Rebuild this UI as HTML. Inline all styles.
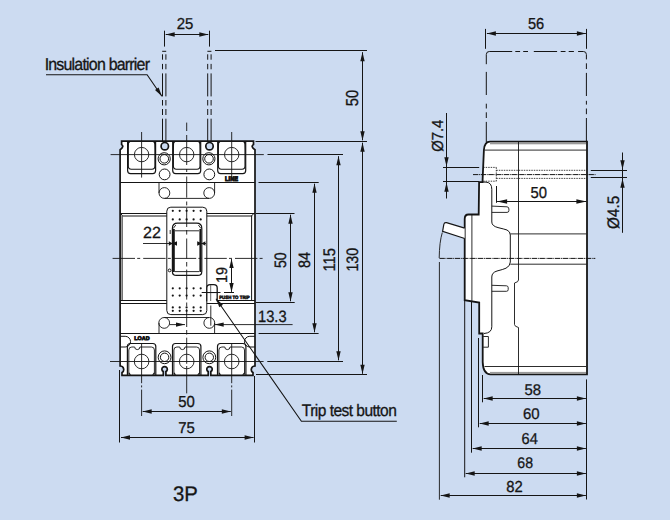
<!DOCTYPE html>
<html><head><meta charset="utf-8"><style>
html,body{margin:0;padding:0;background:#ccdbf1;}
body{width:670px;height:520px;overflow:hidden;}
svg{display:block;}
text{font-family:"Liberation Sans",sans-serif;fill:#151515;text-rendering:geometricPrecision;}
</style></head><body>
<svg width="670" height="520" viewBox="0 0 670 520">
<path d="M121.6,141.2 H253.5 V144.6 Q250.2,146.5 255.0,149.8 V366 C250.5,366 250.5,371.5 253.0,372.6 V375.3 H210.8 V371.6 A2.7,2.7 0 1 0 208.2,371.6 V375.3 H165.9 V371.6 A2.7,2.7 0 1 0 163.29999999999998,371.6 V375.3 H122 V372.6 C124.5,371.5 124.5,366 120.1,366 V149.8 Q124.5,146.5 121.6,144.6 Z" fill="#fff" stroke="#151515" stroke-width="1.7" />
<path d="M127.6,141.2 V170.5 Q127.6,173.6 130.6,173.6 H152.6 Q155.6,173.6 155.6,170.5 V141.2" fill="none" stroke="#151515" stroke-width="1.2" />
<path d="M154.6,141.2 Q154.9,145 154.9,150 V166 Q154.9,169.2 151.9,169.2 H131.29999999999998 Q128.29999999999998,169.2 128.29999999999998,166 V150 Q128.29999999999998,145 128.6,141.2" fill="none" stroke="#151515" stroke-width="1.1" />
<circle cx="141.6" cy="154.6" r="7.2" fill="none" stroke="#151515" stroke-width="0.9"/>
<polygon points="127.6,141.2 130.79999999999998,141.2 128.0,144.2" fill="#151515"/>
<polygon points="155.6,141.2 152.4,141.2 155.2,144.2" fill="#151515"/>
<path d="M172.7,141.2 V170.5 Q172.7,173.6 175.7,173.6 H197.7 Q200.7,173.6 200.7,170.5 V141.2" fill="none" stroke="#151515" stroke-width="1.2" />
<path d="M199.7,141.2 Q200.0,145 200.0,150 V166 Q200.0,169.2 197.0,169.2 H176.39999999999998 Q173.39999999999998,169.2 173.39999999999998,166 V150 Q173.39999999999998,145 173.7,141.2" fill="none" stroke="#151515" stroke-width="1.1" />
<circle cx="186.7" cy="154.6" r="7.2" fill="none" stroke="#151515" stroke-width="0.9"/>
<polygon points="172.7,141.2 175.89999999999998,141.2 173.1,144.2" fill="#151515"/>
<polygon points="200.7,141.2 197.5,141.2 200.29999999999998,144.2" fill="#151515"/>
<path d="M217.7,141.2 V170.5 Q217.7,173.6 220.7,173.6 H242.7 Q245.7,173.6 245.7,170.5 V141.2" fill="none" stroke="#151515" stroke-width="1.2" />
<path d="M244.7,141.2 Q245.0,145 245.0,150 V166 Q245.0,169.2 242.0,169.2 H221.39999999999998 Q218.39999999999998,169.2 218.39999999999998,166 V150 Q218.39999999999998,145 218.7,141.2" fill="none" stroke="#151515" stroke-width="1.1" />
<circle cx="231.7" cy="154.6" r="7.2" fill="none" stroke="#151515" stroke-width="0.9"/>
<polygon points="217.7,141.2 220.89999999999998,141.2 218.1,144.2" fill="#151515"/>
<polygon points="245.7,141.2 242.5,141.2 245.29999999999998,144.2" fill="#151515"/>
<circle cx="164.8" cy="146.2" r="3.7" fill="#ccdbf1" stroke="#151515" stroke-width="1.7"/>
<circle cx="164.20000000000002" cy="158.8" r="6.1" fill="none" stroke="#151515" stroke-width="1.0"/>
<circle cx="164.3" cy="158.8" r="4.3" fill="none" stroke="#151515" stroke-width="1.0"/>
<circle cx="164.60000000000002" cy="174.4" r="5.4" fill="none" stroke="#151515" stroke-width="1.0"/>
<circle cx="209.5" cy="146.2" r="3.7" fill="#ccdbf1" stroke="#151515" stroke-width="1.7"/>
<circle cx="208.9" cy="158.8" r="6.1" fill="none" stroke="#151515" stroke-width="1.0"/>
<circle cx="209.0" cy="158.8" r="4.3" fill="none" stroke="#151515" stroke-width="1.0"/>
<circle cx="209.3" cy="174.4" r="5.4" fill="none" stroke="#151515" stroke-width="1.0"/>
<text x="0" y="0" font-size="6" font-weight="bold" stroke="#151515" stroke-width="0.9" transform="translate(225.121 180.500) scale(0.9438 1.1143)">LINE</text>
<line x1="120.1" y1="182.5" x2="255.0" y2="182.5" stroke="#151515" stroke-width="1.0"/>
<path d="M159,182.3 V193 M214.6,182.3 V193 M164.4,198.4 H209" fill="none" stroke="#151515" stroke-width="0.9" />
<circle cx="164.4" cy="193" r="5.4" fill="none" stroke="#151515" stroke-width="0.9"/>
<circle cx="209.2" cy="193" r="5.4" fill="none" stroke="#151515" stroke-width="0.9"/>
<line x1="120.1" y1="213.5" x2="255.0" y2="213.5" stroke="#151515" stroke-width="1.0"/>
<line x1="120.1" y1="300.5" x2="255.0" y2="300.5" stroke="#151515" stroke-width="1.0"/>
<line x1="120.1" y1="303.5" x2="255.0" y2="303.5" stroke="#151515" stroke-width="1.0"/>
<line x1="122.6" y1="216.0" x2="252.2" y2="216.0" stroke="#151515" stroke-width="1.0"/>
<line x1="122.1" y1="216.0" x2="122.1" y2="300.5" stroke="#151515" stroke-width="1.0"/>
<line x1="251.6" y1="216.0" x2="251.6" y2="300.5" stroke="#151515" stroke-width="1.0"/>
<path d="M120.8,213.6 L122.5,216 M253.8,213.6 L251.4,216" fill="none" stroke="#151515" stroke-width="1.0" />
<path d="M166.8,310.6 V211.2 Q166.8,207.2 170.8,207.2 H202.8 Q206.8,207.2 206.8,211.2 V310.6 Q206.8,314.6 202.8,314.6 H170.8 Q166.8,314.6 166.8,310.6 Z" fill="#fff" stroke="#151515" stroke-width="1.0" />
<circle cx="172.8" cy="210.8" r="1.1" fill="#151515"/>
<circle cx="179.7" cy="210.8" r="1.1" fill="#151515"/>
<circle cx="186.6" cy="210.8" r="1.1" fill="#151515"/>
<circle cx="193.6" cy="210.8" r="1.1" fill="#151515"/>
<circle cx="200.7" cy="210.8" r="1.1" fill="#151515"/>
<circle cx="172.8" cy="219.4" r="1.1" fill="#151515"/>
<circle cx="179.7" cy="219.4" r="1.1" fill="#151515"/>
<circle cx="186.6" cy="219.4" r="1.1" fill="#151515"/>
<circle cx="193.6" cy="219.4" r="1.1" fill="#151515"/>
<circle cx="200.7" cy="219.4" r="1.1" fill="#151515"/>
<circle cx="172.8" cy="288.3" r="1.1" fill="#151515"/>
<circle cx="179.7" cy="288.3" r="1.1" fill="#151515"/>
<circle cx="186.6" cy="288.3" r="1.1" fill="#151515"/>
<circle cx="193.6" cy="288.3" r="1.1" fill="#151515"/>
<circle cx="200.7" cy="288.3" r="1.1" fill="#151515"/>
<circle cx="172.8" cy="295.6" r="1.1" fill="#151515"/>
<circle cx="179.7" cy="295.6" r="1.1" fill="#151515"/>
<circle cx="186.6" cy="295.6" r="1.1" fill="#151515"/>
<circle cx="193.6" cy="295.6" r="1.1" fill="#151515"/>
<circle cx="200.7" cy="295.6" r="1.1" fill="#151515"/>
<circle cx="172.8" cy="307.4" r="1.1" fill="#151515"/>
<circle cx="179.7" cy="307.4" r="1.1" fill="#151515"/>
<circle cx="186.6" cy="307.4" r="1.1" fill="#151515"/>
<circle cx="193.6" cy="307.4" r="1.1" fill="#151515"/>
<circle cx="200.7" cy="307.4" r="1.1" fill="#151515"/>
<circle cx="172.8" cy="310.8" r="1.1" fill="#151515"/>
<circle cx="179.7" cy="310.8" r="1.1" fill="#151515"/>
<circle cx="186.6" cy="310.8" r="1.1" fill="#151515"/>
<circle cx="193.6" cy="310.8" r="1.1" fill="#151515"/>
<circle cx="200.7" cy="310.8" r="1.1" fill="#151515"/>
<path d="M172.4,271.4 V228.4 Q172.4,223.2 177.6,223.2 H196.6 Q201.8,223.2 201.8,228.4 V271.4 Q201.8,275.4 197.8,275.4 H176.4 Q172.4,275.4 172.4,271.4 Z" fill="#fff" stroke="#151515" stroke-width="1.2" />
<line x1="173.9" y1="229" x2="173.9" y2="272" stroke="#151515" stroke-width="1.8"/>
<line x1="200.3" y1="229" x2="200.3" y2="272" stroke="#151515" stroke-width="1.8"/>
<path d="M173.2,228.5 L175.8,225 M201,228.5 L198.4,225" fill="none" stroke="#151515" stroke-width="0.9" />
<line x1="175" y1="230.8" x2="199" y2="230.8" stroke="#151515" stroke-width="0.9"/>
<line x1="175" y1="271.6" x2="199" y2="271.6" stroke="#151515" stroke-width="0.9"/>
<circle cx="169.6" cy="270.4" r="1.4" fill="none" stroke="#151515" stroke-width="1.0"/>
<line x1="170.2" y1="230" x2="170.2" y2="234" stroke="#151515" stroke-width="0.9"/>
<path d="M206.8,301.4 V288 Q206.8,284.6 210.2,284.6 H213.8 Q217.2,284.6 217.2,288 V301.4" fill="#fff" stroke="#151515" stroke-width="1.3" />
<line x1="210.7" y1="285" x2="210.7" y2="301" stroke="#666" stroke-width="1.0"/>
<line x1="207" y1="292.6" x2="217" y2="292.6" stroke="#666" stroke-width="1.0"/>
<text x="0" y="0" font-size="5" font-weight="bold" stroke="#151515" stroke-width="0.6" transform="translate(219.208 299.452) scale(0.8720 0.9605)">PUSH TO TRIP</text>
<path d="M159,333.6 V322.9 M214.6,333.6 V322.9 M164.2,317.5 H209" fill="none" stroke="#151515" stroke-width="0.9" />
<circle cx="164.2" cy="322.9" r="5.4" fill="none" stroke="#151515" stroke-width="0.9"/>
<circle cx="209.3" cy="322.9" r="5.4" fill="none" stroke="#151515" stroke-width="0.9"/>
<line x1="120.1" y1="333.5" x2="255.0" y2="333.5" stroke="#151515" stroke-width="1.0"/>
<path d="M120.1,336.3 H125.2 A5.35,5.35 0 0 1 125.2,347 H120.1" fill="none" stroke="#151515" stroke-width="1.0" />
<path d="M255.0,336.3 H249.8 A5.35,5.35 0 0 0 249.8,347 H255.0" fill="none" stroke="#151515" stroke-width="1.0" />
<text x="0" y="0" font-size="6" font-weight="bold" stroke="#151515" stroke-width="0.9" transform="translate(134.341 340.146) scale(0.8933 0.8945)">LOAD</text>
<path d="M127.39999999999999,375.3 V346.5 Q127.39999999999999,343.5 130.4,343.5 H152.79999999999998 Q155.79999999999998,343.5 155.79999999999998,346.5 V375.3" fill="none" stroke="#151515" stroke-width="1.2" />
<path d="M128.79999999999998,374.3 V350 Q128.79999999999998,347 131.79999999999998,347 H134.7 A2.6,2.6 0 0 0 139.9,347 H151.4 Q154.4,347 154.4,350 V374.3" fill="none" stroke="#151515" stroke-width="0.9" />
<circle cx="141.6" cy="361.5" r="7.3" fill="none" stroke="#151515" stroke-width="0.9"/>
<polygon points="128.6,374.8 131.1,374.8 129.0,372.3" fill="#151515"/>
<polygon points="154.6,374.8 152.1,374.8 154.2,372.3" fill="#151515"/>
<path d="M172.5,375.3 V346.5 Q172.5,343.5 175.5,343.5 H197.89999999999998 Q200.89999999999998,343.5 200.89999999999998,346.5 V375.3" fill="none" stroke="#151515" stroke-width="1.2" />
<path d="M173.89999999999998,374.3 V350 Q173.89999999999998,347 176.89999999999998,347 H179.79999999999998 A2.6,2.6 0 0 0 185.0,347 H196.5 Q199.5,347 199.5,350 V374.3" fill="none" stroke="#151515" stroke-width="0.9" />
<circle cx="186.7" cy="361.5" r="7.3" fill="none" stroke="#151515" stroke-width="0.9"/>
<polygon points="173.7,374.8 176.2,374.8 174.1,372.3" fill="#151515"/>
<polygon points="199.7,374.8 197.2,374.8 199.29999999999998,372.3" fill="#151515"/>
<path d="M217.5,375.3 V346.5 Q217.5,343.5 220.5,343.5 H242.89999999999998 Q245.89999999999998,343.5 245.89999999999998,346.5 V375.3" fill="none" stroke="#151515" stroke-width="1.2" />
<path d="M218.89999999999998,374.3 V350 Q218.89999999999998,347 221.89999999999998,347 H224.79999999999998 A2.6,2.6 0 0 0 230.0,347 H241.5 Q244.5,347 244.5,350 V374.3" fill="none" stroke="#151515" stroke-width="0.9" />
<circle cx="231.7" cy="361.5" r="7.3" fill="none" stroke="#151515" stroke-width="0.9"/>
<polygon points="218.7,374.8 221.2,374.8 219.1,372.3" fill="#151515"/>
<polygon points="244.7,374.8 242.2,374.8 244.29999999999998,372.3" fill="#151515"/>
<circle cx="164.60000000000002" cy="357.3" r="6.4" fill="none" stroke="#151515" stroke-width="1.0"/>
<circle cx="164.60000000000002" cy="357.3" r="4.2" fill="none" stroke="#151515" stroke-width="1.0"/>
<circle cx="209.3" cy="357.3" r="6.4" fill="none" stroke="#151515" stroke-width="1.0"/>
<circle cx="209.3" cy="357.3" r="4.2" fill="none" stroke="#151515" stroke-width="1.0"/>
<line x1="110.6" y1="154.6" x2="263.8" y2="154.6" stroke="#151515" stroke-width="0.9"/>
<line x1="112.6" y1="258.4" x2="264" y2="258.4" stroke="#151515" stroke-width="0.9" stroke-dasharray="22.4 2.2 3 3"/>
<line x1="110" y1="361.5" x2="263.6" y2="361.5" stroke="#151515" stroke-width="0.9"/>
<line x1="141.6" y1="132" x2="141.6" y2="177.6" stroke="#151515" stroke-width="0.9"/>
<line x1="231.7" y1="132" x2="231.7" y2="177.6" stroke="#151515" stroke-width="0.9"/>
<line x1="186.7" y1="122.6" x2="186.7" y2="131" stroke="#151515" stroke-width="0.9"/>
<line x1="186.7" y1="135" x2="186.7" y2="165" stroke="#151515" stroke-width="0.9"/>
<line x1="186.7" y1="169" x2="186.7" y2="172" stroke="#151515" stroke-width="0.9"/>
<line x1="186.7" y1="176.5" x2="186.7" y2="197.7" stroke="#151515" stroke-width="0.9"/>
<line x1="186.7" y1="201.5" x2="186.7" y2="205.4" stroke="#151515" stroke-width="0.9"/>
<line x1="186.7" y1="208" x2="186.7" y2="227" stroke="#151515" stroke-width="0.9"/>
<line x1="186.7" y1="230" x2="186.7" y2="234.6" stroke="#151515" stroke-width="0.9"/>
<line x1="186.7" y1="238.5" x2="186.7" y2="258.8" stroke="#151515" stroke-width="0.9"/>
<line x1="186.7" y1="262" x2="186.7" y2="266.5" stroke="#151515" stroke-width="0.9"/>
<line x1="186.7" y1="269.6" x2="186.7" y2="299.6" stroke="#151515" stroke-width="0.9"/>
<line x1="186.7" y1="302.5" x2="186.7" y2="306" stroke="#151515" stroke-width="0.9"/>
<line x1="186.7" y1="309" x2="186.7" y2="327" stroke="#151515" stroke-width="0.9"/>
<line x1="186.7" y1="330" x2="186.7" y2="334.6" stroke="#151515" stroke-width="0.9"/>
<line x1="186.7" y1="337.7" x2="186.7" y2="363.8" stroke="#151515" stroke-width="0.9"/>
<line x1="186.7" y1="366" x2="186.7" y2="393.4" stroke="#151515" stroke-width="0.9"/>
<line x1="141.6" y1="343" x2="141.6" y2="383.2" stroke="#151515" stroke-width="0.9"/>
<line x1="141.6" y1="385.4" x2="141.6" y2="387.4" stroke="#151515" stroke-width="0.9"/>
<line x1="141.6" y1="389.6" x2="141.6" y2="416" stroke="#151515" stroke-width="0.9"/>
<line x1="231.7" y1="343" x2="231.7" y2="383.2" stroke="#151515" stroke-width="0.9"/>
<line x1="231.7" y1="385.4" x2="231.7" y2="387.4" stroke="#151515" stroke-width="0.9"/>
<line x1="231.7" y1="389.6" x2="231.7" y2="416" stroke="#151515" stroke-width="0.9"/>
<line x1="162.2" y1="51.3" x2="166.20000000000002" y2="51.3" stroke="#151515" stroke-width="1.0"/>
<line x1="162.5" y1="54.3" x2="162.5" y2="59.7" stroke="#151515" stroke-width="1.0"/>
<line x1="165.9" y1="54.3" x2="165.9" y2="59.7" stroke="#151515" stroke-width="1.0"/>
<line x1="162.5" y1="63.9" x2="162.5" y2="69.3" stroke="#151515" stroke-width="1.0"/>
<line x1="165.9" y1="63.9" x2="165.9" y2="69.3" stroke="#151515" stroke-width="1.0"/>
<line x1="162.5" y1="73.4" x2="162.5" y2="96.4" stroke="#151515" stroke-width="1.0"/>
<line x1="165.9" y1="73.4" x2="165.9" y2="96.4" stroke="#151515" stroke-width="1.0"/>
<line x1="162.5" y1="100" x2="162.5" y2="105.5" stroke="#151515" stroke-width="1.0"/>
<line x1="165.9" y1="100" x2="165.9" y2="105.5" stroke="#151515" stroke-width="1.0"/>
<line x1="162.5" y1="109" x2="162.5" y2="115" stroke="#151515" stroke-width="1.0"/>
<line x1="165.9" y1="109" x2="165.9" y2="115" stroke="#151515" stroke-width="1.0"/>
<line x1="162.5" y1="118.7" x2="162.5" y2="141.2" stroke="#151515" stroke-width="1.0"/>
<line x1="165.9" y1="118.7" x2="165.9" y2="141.2" stroke="#151515" stroke-width="1.0"/>
<line x1="207.39999999999998" y1="51.3" x2="211.4" y2="51.3" stroke="#151515" stroke-width="1.0"/>
<line x1="207.7" y1="54.3" x2="207.7" y2="59.7" stroke="#151515" stroke-width="1.0"/>
<line x1="211.1" y1="54.3" x2="211.1" y2="59.7" stroke="#151515" stroke-width="1.0"/>
<line x1="207.7" y1="63.9" x2="207.7" y2="69.3" stroke="#151515" stroke-width="1.0"/>
<line x1="211.1" y1="63.9" x2="211.1" y2="69.3" stroke="#151515" stroke-width="1.0"/>
<line x1="207.7" y1="73.4" x2="207.7" y2="96.4" stroke="#151515" stroke-width="1.0"/>
<line x1="211.1" y1="73.4" x2="211.1" y2="96.4" stroke="#151515" stroke-width="1.0"/>
<line x1="207.7" y1="100" x2="207.7" y2="105.5" stroke="#151515" stroke-width="1.0"/>
<line x1="211.1" y1="100" x2="211.1" y2="105.5" stroke="#151515" stroke-width="1.0"/>
<line x1="207.7" y1="109" x2="207.7" y2="115" stroke="#151515" stroke-width="1.0"/>
<line x1="211.1" y1="109" x2="211.1" y2="115" stroke="#151515" stroke-width="1.0"/>
<line x1="207.7" y1="118.7" x2="207.7" y2="141.2" stroke="#151515" stroke-width="1.0"/>
<line x1="211.1" y1="118.7" x2="211.1" y2="141.2" stroke="#151515" stroke-width="1.0"/>
<line x1="164.5" y1="30.7" x2="164.5" y2="46.6" stroke="#151515" stroke-width="1.0"/>
<line x1="209.5" y1="30.7" x2="209.5" y2="46.6" stroke="#151515" stroke-width="1.0"/>
<line x1="165.7" y1="34.5" x2="208.3" y2="34.5" stroke="#151515" stroke-width="1.0"/>
<polygon points="165.70,34.50 174.70,32.30 174.70,36.70" fill="#151515"/>
<polygon points="208.30,34.50 199.30,32.30 199.30,36.70" fill="#151515"/>
<text x="0" y="0" font-size="16" font-weight="normal" stroke="#151515" stroke-width="0.3" transform="translate(176.655 28.642) scale(0.9314 0.9887)">25</text>
<path d="M46,74.7 H147.1 L161.9,96.2" fill="none" stroke="#151515" stroke-width="1.1" />
<polygon points="161.90,96.20 154.98,90.03 158.61,87.54" fill="#151515"/>
<text x="0" y="0" font-size="16" stroke="#151515" stroke-width="0.3" letter-spacing="-0.794" transform="translate(44.633 69.900) scale(0.9969 1.0719)">Insulation barrier</text>
<line x1="215" y1="50.5" x2="367" y2="50.5" stroke="#151515" stroke-width="1.0"/>
<line x1="255.5" y1="141.5" x2="367" y2="141.5" stroke="#151515" stroke-width="1.0"/>
<line x1="362.5" y1="52.2" x2="362.5" y2="140.3" stroke="#151515" stroke-width="1.0"/>
<polygon points="362.50,52.20 360.30,61.20 364.70,61.20" fill="#151515"/>
<polygon points="362.50,140.30 360.30,131.30 364.70,131.30" fill="#151515"/>
<text x="0" y="0" font-size="16" font-weight="normal" stroke="#151515" stroke-width="0.3" transform="translate(357.928 106.189) rotate(-90) scale(0.9197 1.0770)">50</text>
<line x1="256" y1="374.5" x2="367" y2="374.5" stroke="#151515" stroke-width="1.0"/>
<line x1="362.5" y1="142.7" x2="362.5" y2="373.8" stroke="#151515" stroke-width="1.0"/>
<polygon points="362.50,142.70 360.30,151.70 364.70,151.70" fill="#151515"/>
<polygon points="362.50,373.80 360.30,364.80 364.70,364.80" fill="#151515"/>
<text x="0" y="0" font-size="16" font-weight="normal" stroke="#151515" stroke-width="0.3" transform="translate(357.635 271.586) rotate(-90) scale(0.8934 1.0328)">130</text>
<line x1="267.5" y1="154.5" x2="343" y2="154.5" stroke="#151515" stroke-width="1.0"/>
<line x1="267.3" y1="361.5" x2="343" y2="361.5" stroke="#151515" stroke-width="1.0"/>
<line x1="338.5" y1="156.2" x2="338.5" y2="360.3" stroke="#151515" stroke-width="1.0"/>
<polygon points="338.50,156.20 336.30,165.20 340.70,165.20" fill="#151515"/>
<polygon points="338.50,360.30 336.30,351.30 340.70,351.30" fill="#151515"/>
<text x="0" y="0" font-size="16" font-weight="normal" stroke="#151515" stroke-width="0.3" transform="translate(334.532 271.622) rotate(-90) scale(0.9231 1.0476)">115</text>
<line x1="258.5" y1="182.5" x2="318.7" y2="182.5" stroke="#151515" stroke-width="1.0"/>
<line x1="258.6" y1="333.5" x2="318.6" y2="333.5" stroke="#151515" stroke-width="1.0"/>
<line x1="314.5" y1="183.7" x2="314.5" y2="332.3" stroke="#151515" stroke-width="1.0"/>
<polygon points="314.50,183.70 312.30,192.70 316.70,192.70" fill="#151515"/>
<polygon points="314.50,332.30 312.30,323.30 316.70,323.30" fill="#151515"/>
<text x="0" y="0" font-size="16" font-weight="normal" stroke="#151515" stroke-width="0.3" transform="translate(309.635 268.020) rotate(-90) scale(0.9014 1.0328)">84</text>
<line x1="256" y1="213.5" x2="294.5" y2="213.5" stroke="#151515" stroke-width="1.0"/>
<line x1="255.8" y1="302.5" x2="294.7" y2="302.5" stroke="#151515" stroke-width="1.0"/>
<line x1="290.5" y1="214.7" x2="290.5" y2="301.3" stroke="#151515" stroke-width="1.0"/>
<polygon points="290.50,214.70 288.30,223.70 292.70,223.70" fill="#151515"/>
<polygon points="290.50,301.30 288.30,292.30 292.70,292.30" fill="#151515"/>
<text x="0" y="0" font-size="16" font-weight="normal" stroke="#151515" stroke-width="0.3" transform="translate(285.735 268.069) rotate(-90) scale(0.8894 1.0328)">50</text>
<line x1="231.5" y1="259.1" x2="231.5" y2="291.9" stroke="#151515" stroke-width="1.0"/>
<polygon points="231.50,259.10 229.30,268.10 233.70,268.10" fill="#151515"/>
<polygon points="231.50,291.90 229.30,282.90 233.70,282.90" fill="#151515"/>
<line x1="201.7" y1="292.5" x2="220.5" y2="292.5" stroke="#151515" stroke-width="1.0"/>
<line x1="224" y1="292.5" x2="234" y2="292.5" stroke="#151515" stroke-width="1.0"/>
<text x="0" y="0" font-size="16" font-weight="normal" stroke="#151515" stroke-width="0.3" transform="translate(227.045 282.891) rotate(-90) scale(0.8974 0.9710)">19</text>
<line x1="143" y1="243.5" x2="172.6" y2="243.5" stroke="#151515" stroke-width="0.9"/>
<line x1="201.6" y1="243.5" x2="206" y2="243.5" stroke="#151515" stroke-width="0.9"/>
<polygon points="172.00,243.50 177.00,241.30 177.00,245.70" fill="#151515"/>
<polygon points="202.20,243.50 197.20,241.30 197.20,245.70" fill="#151515"/>
<polygon points="172.80,243.50 168.80,241.30 168.80,245.70" fill="#151515"/>
<polygon points="201.40,243.50 205.40,241.30 205.40,245.70" fill="#151515"/>
<text x="0" y="0" font-size="16" font-weight="normal" stroke="#151515" stroke-width="0.3" transform="translate(142.995 237.800) scale(1.0067 1.0118)">22</text>
<line x1="169.6" y1="324.6" x2="185" y2="324.6" stroke="#151515" stroke-width="0.9"/>
<polygon points="185.00,324.60 176.00,322.40 176.00,326.80" fill="#151515"/>
<line x1="214.7" y1="324.6" x2="292.6" y2="324.6" stroke="#151515" stroke-width="0.9"/>
<polygon points="214.70,324.60 223.70,322.40 223.70,326.80" fill="#151515"/>
<line x1="210.8" y1="305.5" x2="210.8" y2="325.7" stroke="#151515" stroke-width="0.9"/>
<text x="0" y="0" font-size="16" font-weight="normal" stroke="#151515" stroke-width="0.3" transform="translate(257.985 321.935) scale(0.9173 1.0328)">13.3</text>
<path d="M216,298.7 L301.4,421.3 H396.8" fill="none" stroke="#151515" stroke-width="1.1" />
<polygon points="216.00,298.70 222.95,304.83 219.34,307.34" fill="#151515"/>
<text x="0" y="0" font-size="16" stroke="#151515" stroke-width="0.3" letter-spacing="-0.560" transform="translate(301.858 415.900) scale(0.9716 1.0447)">Trip test button</text>
<line x1="142.7" y1="411.5" x2="230.8" y2="411.5" stroke="#151515" stroke-width="1.0"/>
<polygon points="142.70,411.50 151.70,409.30 151.70,413.70" fill="#151515"/>
<polygon points="230.80,411.50 221.80,409.30 221.80,413.70" fill="#151515"/>
<text x="0" y="0" font-size="16" font-weight="normal" stroke="#151515" stroke-width="0.3" transform="translate(178.204 407.040) scale(0.9318 0.9975)">50</text>
<line x1="119.5" y1="370" x2="119.5" y2="442.5" stroke="#151515" stroke-width="1.0"/>
<line x1="254.5" y1="376" x2="254.5" y2="442.5" stroke="#151515" stroke-width="1.0"/>
<line x1="121.0" y1="437.5" x2="253.60000000000002" y2="437.5" stroke="#151515" stroke-width="1.0"/>
<polygon points="121.00,437.50 130.00,435.30 130.00,439.70" fill="#151515"/>
<polygon points="253.60,437.50 244.60,435.30 244.60,439.70" fill="#151515"/>
<text x="0" y="0" font-size="16" font-weight="normal" stroke="#151515" stroke-width="0.3" transform="translate(178.239 432.544) scale(0.9323 0.9760)">75</text>
<text x="0" y="0" font-size="21" font-weight="normal" stroke="#151515" stroke-width="0.3" transform="translate(173.028 501.488) scale(0.9675 1.0089)">3P</text>
<path d="M486.3,64.2 V54.5 Q486.3,51.5 489.3,51.5 H512.2" fill="none" stroke="#151515" stroke-width="1.0" />
<line x1="515.3" y1="51.5" x2="520.1" y2="51.5" stroke="#151515" stroke-width="1.0"/>
<line x1="523.2" y1="51.5" x2="528" y2="51.5" stroke="#151515" stroke-width="1.0"/>
<line x1="533.8" y1="51.5" x2="557.1" y2="51.5" stroke="#151515" stroke-width="1.0"/>
<line x1="560.7" y1="51.5" x2="565.5" y2="51.5" stroke="#151515" stroke-width="1.0"/>
<line x1="568.7" y1="51.5" x2="573.9" y2="51.5" stroke="#151515" stroke-width="1.0"/>
<path d="M578.1,51.5 H583.4 Q586.4,51.5 586.4,54.5 V59.4" fill="none" stroke="#151515" stroke-width="1.0" />
<line x1="486.3" y1="71.9" x2="486.3" y2="95" stroke="#151515" stroke-width="1.0"/>
<line x1="486.3" y1="103.7" x2="486.3" y2="108.5" stroke="#151515" stroke-width="1.0"/>
<line x1="486.3" y1="112.3" x2="486.3" y2="118" stroke="#151515" stroke-width="1.0"/>
<line x1="486.3" y1="121.9" x2="486.3" y2="142" stroke="#151515" stroke-width="1.0"/>
<line x1="586.4" y1="63.3" x2="586.4" y2="69" stroke="#151515" stroke-width="1.0"/>
<line x1="586.4" y1="72.9" x2="586.4" y2="96" stroke="#151515" stroke-width="1.0"/>
<line x1="586.4" y1="100.8" x2="586.4" y2="104.6" stroke="#151515" stroke-width="1.0"/>
<line x1="586.4" y1="108.5" x2="586.4" y2="114.2" stroke="#151515" stroke-width="1.0"/>
<line x1="586.4" y1="118" x2="586.4" y2="142" stroke="#151515" stroke-width="1.0"/>
<line x1="485.5" y1="28.9" x2="485.5" y2="48.8" stroke="#151515" stroke-width="1.0"/>
<line x1="586.5" y1="28.9" x2="586.5" y2="48.8" stroke="#151515" stroke-width="1.0"/>
<line x1="486.9" y1="33.5" x2="585.9" y2="33.5" stroke="#151515" stroke-width="1.0"/>
<polygon points="486.90,33.50 495.90,31.30 495.90,35.70" fill="#151515"/>
<polygon points="585.90,33.50 576.90,31.30 576.90,35.70" fill="#151515"/>
<text x="0" y="0" font-size="16" font-weight="normal" stroke="#151515" stroke-width="0.3" transform="translate(527.916 28.740) scale(0.9120 0.9975)">56</text>
<path d="M490,141.6 H587.0 V374.4 H490.5 Q483,374 482.7,362 V333.5 H479.2 V302.6 L464.7,300.2 V219 Q464.7,214.5 468.5,214.5 H478.7 L479.1,182.1 H482.5 L483.9,150 Q484.5,141.6 490,141.6 Z" fill="#fff" stroke="#151515" stroke-width="1.8" />
<line x1="484.5" y1="150.1" x2="586.6" y2="150.1" stroke="#151515" stroke-width="0.9"/>
<rect x="490" y="142.3" width="96" height="2" fill="#9a9a9a"/>
<line x1="484.5" y1="366.5" x2="586" y2="366.5" stroke="#151515" stroke-width="0.9"/>
<rect x="490" y="371.9" width="96" height="2" fill="#9a9a9a"/>
<path d="M518.5,141.6 V280 Q518.5,282 514.5,283 V324.5 Q514.5,326.5 518.5,327.5 V374.4" fill="none" stroke="#151515" stroke-width="0.9" />
<path d="M482.5,182.1 H486 Q491.8,182.5 491.8,189.3 V222 Q491.8,226 498,227.6 Q504,229 507,230 Q510.3,231.5 510.3,235 V262 Q510.3,266 506,268.2 Q503,269.5 497,271 Q491.8,272.5 491.8,277 V326.8 Q491.8,333 484,333.5" fill="none" stroke="#151515" stroke-width="1.0" />
<line x1="471.9" y1="214.8" x2="471.9" y2="300.8" stroke="#151515" stroke-width="0.9"/>
<line x1="510.3" y1="233.9" x2="586.6" y2="233.9" stroke="#151515" stroke-width="0.9"/>
<line x1="510.3" y1="264.2" x2="586.6" y2="264.2" stroke="#151515" stroke-width="0.9"/>
<path d="M491.8,206.1 L507,206.8 Q508.9,207 508.9,209 V210.6 Q508.9,212.4 507,212.4 H491.8" fill="none" stroke="#151515" stroke-width="0.9" />
<path d="M491.8,285.3 L506.5,285.8 Q508.2,286 508.2,287.6 V289.6 Q508.2,291.3 506.5,291.3 H491.8" fill="none" stroke="#151515" stroke-width="0.9" />
<path d="M483.2,336.5 H488.4 V347.2 H483.2" fill="none" stroke="#151515" stroke-width="0.9" />
<path d="M464.7,228.1 L446.5,222.6 Q444.2,222.2 443.8,224.5 L442.6,231.3 L464.7,238.5" fill="#fff" stroke="#151515" stroke-width="1.2" />
<path d="M442.3,232.5 Q439.4,242 439.2,258 M439.4,262 V499.7" fill="none" stroke="#151515" stroke-width="0.9" />
<line x1="483.2" y1="167.4" x2="496.3" y2="167.4" stroke="#151515" stroke-width="0.8" stroke-dasharray="1.5 1"/>
<line x1="483.2" y1="181.2" x2="496.3" y2="181.2" stroke="#151515" stroke-width="0.8" stroke-dasharray="1.5 1"/>
<line x1="496.3" y1="170.3" x2="586.6" y2="170.3" stroke="#151515" stroke-width="0.8" stroke-dasharray="1.5 1"/>
<line x1="496.3" y1="178.4" x2="586.6" y2="178.4" stroke="#151515" stroke-width="0.8" stroke-dasharray="1.5 1"/>
<line x1="496.3" y1="167.4" x2="496.3" y2="181.2" stroke="#151515" stroke-width="0.8" stroke-dasharray="1.5 1"/>
<line x1="473" y1="174.6" x2="596" y2="174.6" stroke="#151515" stroke-width="1.0" stroke-dasharray="5.4 0.7 0.9 0.7"/>
<line x1="443" y1="167.5" x2="479.2" y2="167.5" stroke="#151515" stroke-width="1.0"/>
<line x1="443" y1="181.5" x2="479.2" y2="181.5" stroke="#151515" stroke-width="1.0"/>
<line x1="446.5" y1="113" x2="446.5" y2="198.5" stroke="#151515" stroke-width="1.0"/>
<polygon points="446.50,166.30 444.30,157.30 448.70,157.30" fill="#151515"/>
<polygon points="446.50,182.70 444.30,191.70 448.70,191.70" fill="#151515"/>
<text x="0" y="0" font-size="16" font-weight="normal" stroke="#151515" stroke-width="0.3" transform="translate(442.987 151.819) rotate(-90) scale(0.9268 0.9939)">Ø7.4</text>
<line x1="590.8" y1="170.5" x2="627" y2="170.5" stroke="#151515" stroke-width="1.0"/>
<line x1="590.8" y1="177.5" x2="627" y2="177.5" stroke="#151515" stroke-width="1.0"/>
<line x1="622.5" y1="152.5" x2="622.5" y2="232.8" stroke="#151515" stroke-width="1.0"/>
<polygon points="622.50,169.30 620.30,160.30 624.70,160.30" fill="#151515"/>
<polygon points="622.50,178.70 620.30,187.70 624.70,187.70" fill="#151515"/>
<text x="0" y="0" font-size="16" font-weight="normal" stroke="#151515" stroke-width="0.3" transform="translate(618.869 229.037) rotate(-90) scale(0.9595 1.0361)">Ø4.5</text>
<line x1="496.5" y1="186" x2="496.5" y2="202.8" stroke="#151515" stroke-width="1.0"/>
<line x1="497.1" y1="201.5" x2="586.4" y2="201.5" stroke="#151515" stroke-width="1.0"/>
<polygon points="497.10,201.50 507.10,199.30 507.10,203.70" fill="#151515"/>
<polygon points="586.40,201.50 576.40,199.30 576.40,203.70" fill="#151515"/>
<text x="0" y="0" font-size="16" font-weight="normal" stroke="#151515" stroke-width="0.3" transform="translate(530.408 197.740) scale(0.9257 0.9975)">50</text>
<line x1="439.4" y1="258.4" x2="595.3" y2="258.4" stroke="#151515" stroke-width="1.0" stroke-dasharray="5.4 0.7 0.9 0.7"/>
<line x1="586.5" y1="379.4" x2="586.5" y2="499.5" stroke="#151515" stroke-width="1.0"/>
<line x1="483.7" y1="398.5" x2="585.9" y2="398.5" stroke="#151515" stroke-width="1.0"/>
<polygon points="483.70,398.50 492.70,396.30 492.70,400.70" fill="#151515"/>
<polygon points="585.90,398.50 576.90,396.30 576.90,400.70" fill="#151515"/>
<line x1="479.7" y1="423.5" x2="585.9" y2="423.5" stroke="#151515" stroke-width="1.0"/>
<polygon points="479.70,423.50 488.70,421.30 488.70,425.70" fill="#151515"/>
<polygon points="585.90,423.50 576.90,421.30 576.90,425.70" fill="#151515"/>
<line x1="472.7" y1="448.5" x2="585.9" y2="448.5" stroke="#151515" stroke-width="1.0"/>
<polygon points="472.70,448.50 481.70,446.30 481.70,450.70" fill="#151515"/>
<polygon points="585.90,448.50 576.90,446.30 576.90,450.70" fill="#151515"/>
<line x1="465.7" y1="473.5" x2="585.9" y2="473.5" stroke="#151515" stroke-width="1.0"/>
<polygon points="465.70,473.50 474.70,471.30 474.70,475.70" fill="#151515"/>
<polygon points="585.90,473.50 576.90,471.30 576.90,475.70" fill="#151515"/>
<line x1="440.7" y1="495.5" x2="585.9" y2="495.5" stroke="#151515" stroke-width="1.0"/>
<polygon points="440.70,495.50 449.70,493.30 449.70,497.70" fill="#151515"/>
<polygon points="585.90,495.50 576.90,493.30 576.90,497.70" fill="#151515"/>
<text x="0" y="0" font-size="16" font-weight="normal" stroke="#151515" stroke-width="0.3" transform="translate(524.405 395.045) scale(0.9293 0.9710)">58</text>
<text x="0" y="0" font-size="16" font-weight="normal" stroke="#151515" stroke-width="0.3" transform="translate(522.936 418.845) scale(0.9357 0.9710)">60</text>
<text x="0" y="0" font-size="16" font-weight="normal" stroke="#151515" stroke-width="0.3" transform="translate(521.554 443.742) scale(0.9145 0.9887)">64</text>
<text x="0" y="0" font-size="16" font-weight="normal" stroke="#151515" stroke-width="0.3" transform="translate(517.279 467.847) scale(0.8841 0.9534)">68</text>
<text x="0" y="0" font-size="16" font-weight="normal" stroke="#151515" stroke-width="0.3" transform="translate(506.263 492.040) scale(0.9262 0.9975)">82</text>
<line x1="482.5" y1="375" x2="482.5" y2="402.3" stroke="#151515" stroke-width="1.0"/>
<line x1="478.5" y1="338" x2="478.5" y2="427.3" stroke="#151515" stroke-width="1.0"/>
<line x1="471.5" y1="300.8" x2="471.5" y2="452.7" stroke="#151515" stroke-width="1.0"/>
<line x1="464.7" y1="300" x2="464.7" y2="477.3" stroke="#151515" stroke-width="1.0"/>
</svg>
</body></html>
